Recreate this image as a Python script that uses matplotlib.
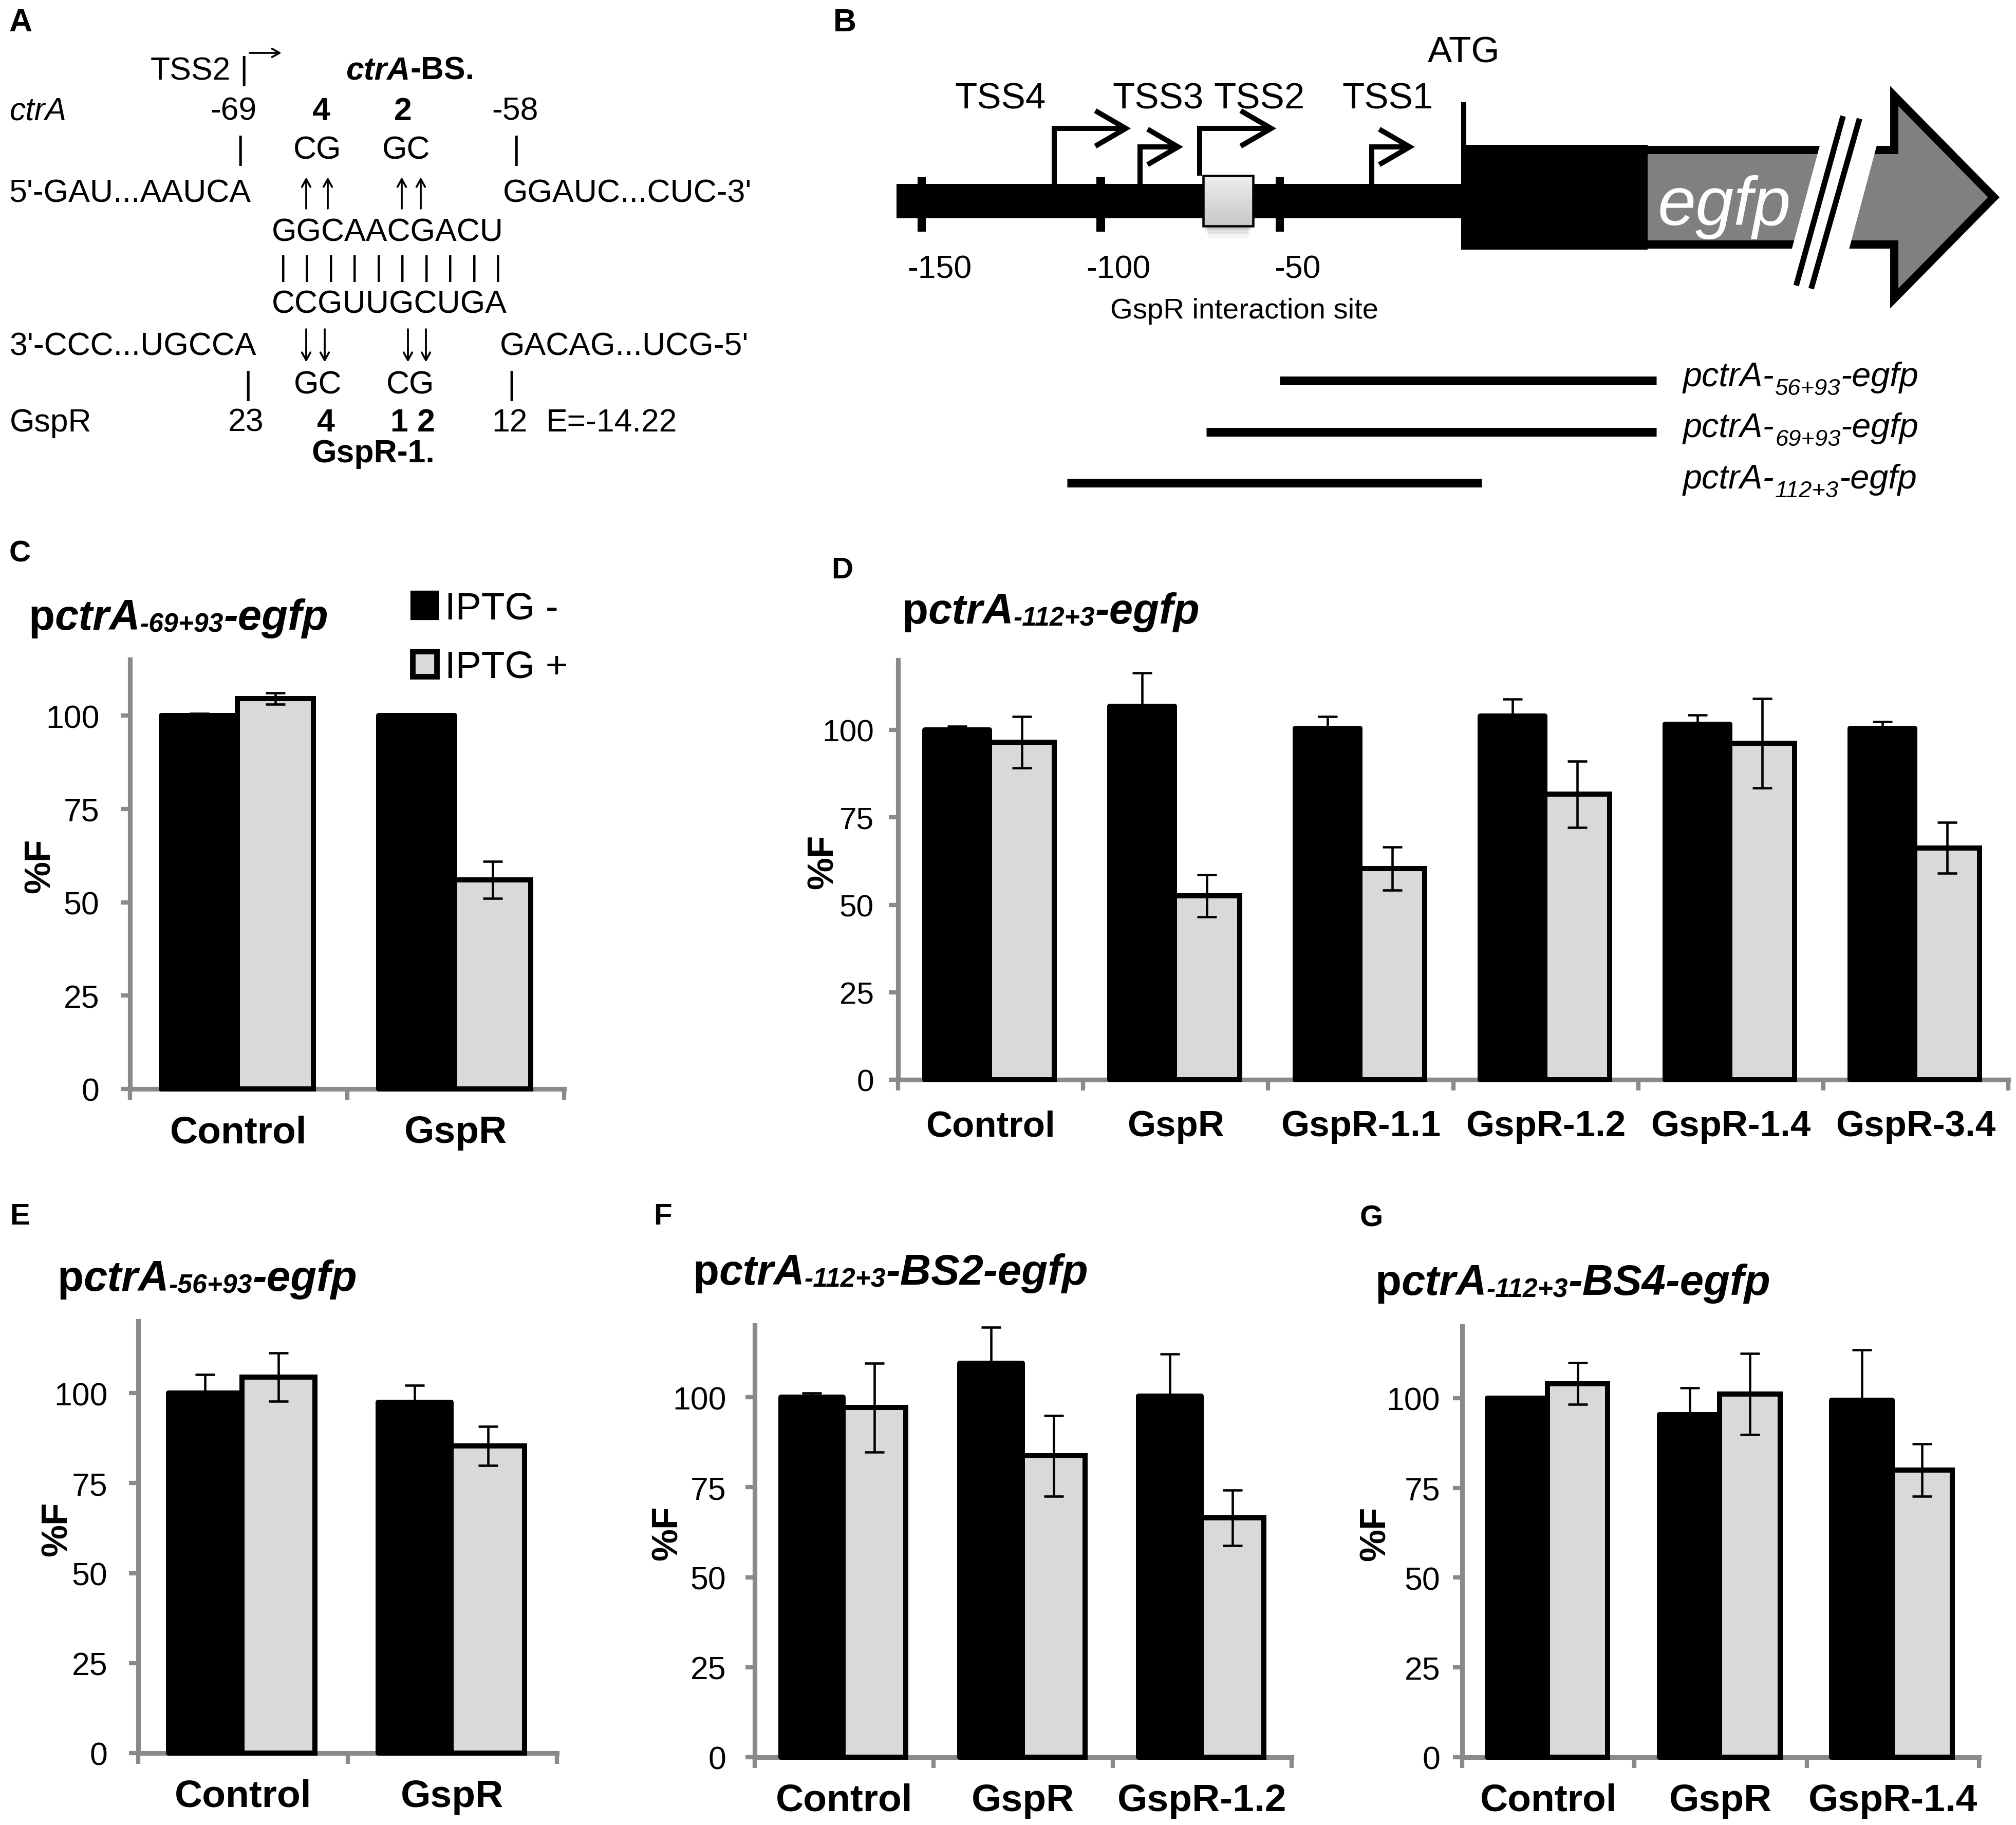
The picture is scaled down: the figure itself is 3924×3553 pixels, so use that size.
"""
Figure: ctrA / GspR interaction scheme (A, B) and %F of ctrA-egfp
reporters with and without IPTG (C-G).
"""

import matplotlib
matplotlib.use("Agg")
import matplotlib.pyplot as plt
import numpy as np
from matplotlib.patches import FancyArrowPatch, Patch, Polygon, Rectangle
from matplotlib.transforms import IdentityTransform

plt.rcParams["font.family"] = ["Liberation Sans", "DejaVu Sans"]

W, H, DPI = 3924, 3554, 300
GREY = "#d9d9d9"
AXIS_GREY = "#8a8a8a"

# ---------------- bar chart data (%F) ----------------
C_CATS = ["Control", "GspR"]
C_NEG = [100.0, 100.0]
C_NEG_ERR = [0.5, 0.3]
C_POS = [104.5, 56.0]
C_POS_ERR = [1.5, 5.0]

D_CATS = ["Control", "GspR", "GspR-1.1", "GspR-1.2", "GspR-1.4", "GspR-3.4"]
D_NEG = [100.0, 106.8, 100.4, 104.0, 101.6, 100.4]
D_NEG_ERR = [1.0, 9.5, 3.5, 4.8, 2.7, 2.0]
D_POS = [96.5, 52.6, 60.4, 81.6, 96.2, 66.3]
D_POS_ERR = [7.4, 6.0, 6.2, 9.5, 12.8, 7.3]

E_CATS = ["Control", "GspR"]
E_NEG = [100.0, 97.4]
E_NEG_ERR = [5.2, 4.8]
E_POS = [104.5, 85.3]
E_POS_ERR = [6.7, 5.4]

F_CATS = ["Control", "GspR", "GspR-1.2"]
F_NEG = [100.0, 109.5, 100.3]
F_NEG_ERR = [1.2, 10.0, 11.7]
F_POS = [97.1, 83.7, 66.5]
F_POS_ERR = [12.4, 11.2, 7.7]

G_CATS = ["Control", "GspR", "GspR-1.4"]
G_NEG = [100.0, 95.4, 99.4]
G_NEG_ERR = [0.0, 7.5, 14.0]
G_POS = [104.0, 101.1, 80.0]
G_POS_ERR = [5.8, 11.3, 7.3]

LEGEND_LABELS = ["IPTG -", "IPTG +"]
Y_TICKS = [0, 25, 50, 75, 100]

# ---------------- panel B schematic (nt, relative to ATG) ----------------
SCALE_TICKS = [-150, -100, -50]
TSS_NAMES = ["TSS4", "TSS3", "TSS2", "TSS1"]
TSS_POS = [-113, -89, -72.4, -24.3]
TSS_LONG = [True, False, True, False]
GSPR_SITE = (-71.4, -57.4)
BACKBONE_START = -157
CDS_START, CDS_END = 1.4, 52.7
EGFP_END, EGFP_TIP = 121.6, 150.9
CONSTRUCT_SUBS = ["56+93", "69+93", "112+3"]
CONSTRUCT_SPANS = [(-50.0, 55.2), (-70.5, 55.2), (-109.4, 6.4)]

fig = plt.figure(figsize=(W / DPI, H / DPI), dpi=DPI)
renderer = fig.canvas.get_renderer()


def ptext(x, y, s, size, **kw):
    """Text at figure pixels measured from the top-left corner."""
    kw.setdefault("va", "baseline")
    return fig.text(x / W, 1 - y / H, s, fontsize=size, **kw)


def parrow(x0, y0, x1, y1):
    """Thin line arrow between two points given in pixels from the top-left."""
    fig.add_artist(FancyArrowPatch((x0, H - y0), (x1, H - y1), transform=IdentityTransform(),
                                   arrowstyle="->,head_length=3.6,head_width=2.0",
                                   linewidth=0.9, color="black", shrinkA=0, shrinkB=0))


def rich(x, y, parts, size, color="black", sub_scale=0.62, sub_drop=0.06, sub_gap=0.0):
    """Run of text pieces with smaller 'subscript' pieces; x, y = baseline start."""
    cur = x
    for s, weight, style, sub in parts:
        fs = size * sub_scale if sub else size
        drop = sub_drop * size * DPI / 72 if sub else 0
        if sub:
            cur += sub_gap * size * DPI / 72
        t = fig.text(cur, H - y - drop, s, transform=IdentityTransform(),
                     fontsize=fs, fontweight=weight, fontstyle=style,
                     color=color, ha="left", va="baseline")
        cur += t.get_window_extent(renderer).width
    return cur


def title_parts(sub, suffix):
    return [("p", "bold", "normal", False), ("ctrA", "bold", "italic", False),
            (sub, "bold", "italic", True), (suffix, "bold", "italic", False)]


# ---------------- panel letters ----------------
for letter, x, y, size in [("A", 17, 61, 15), ("B", 1622, 61, 15),
                           ("C", 18, 1094, 14), ("D", 1618, 1126, 14),
                           ("E", 19, 2384, 14), ("F", 1272, 2384, 14),
                           ("G", 2647, 2388, 14)]:
    ptext(x, y, letter, size, fontweight="bold")

# ---------------- panel A: duplex ----------------
A_SIZE = 15
ptext(293, 155, "TSS2", A_SIZE)
ptext(475, 155, "|", A_SIZE, ha="center")
parrow(486, 104, 548, 104)
rich(673, 155, [("ctrA", "bold", "italic", False), ("-BS.", "bold", "normal", False)], A_SIZE)

ptext(19, 234, "ctrA", A_SIZE, fontstyle="italic")
ptext(409, 234, "-69", A_SIZE)
ptext(625, 234, "4", A_SIZE, ha="center", fontweight="bold")
ptext(784, 234, "2", A_SIZE, ha="center", fontweight="bold")
ptext(957, 234, "-58", A_SIZE)

ptext(468, 310, "|", A_SIZE, ha="center")
ptext(618, 309, "CG", A_SIZE, ha="center")
ptext(791, 309, "GC", A_SIZE, ha="center")
ptext(1005, 310, "|", A_SIZE, ha="center")

ptext(17, 393, "5'-GAU...AAUCA", A_SIZE)
for xa in (596, 638, 782, 819):
    parrow(xa, 407, xa, 346)
ptext(979, 393, "GGAUC...CUC-3'", A_SIZE)

ptext(529, 469, "GGCAACGACU", A_SIZE)
for i in range(10):
    ptext(551 + 46.5 * i, 537, "|", 13.5, ha="center")
ptext(529, 609, "CCGUUGCUGA", A_SIZE)

ptext(19, 691, "3'-CCC...UGCCA", A_SIZE)
for xa in (596, 632, 794, 829):
    parrow(xa, 642, xa, 706)
ptext(973, 691, "GACAG...UCG-5'", A_SIZE)

ptext(483, 768, "|", A_SIZE, ha="center")
ptext(619, 767, "GC", A_SIZE, ha="center")
ptext(799, 767, "CG", A_SIZE, ha="center")
ptext(996, 768, "|", A_SIZE, ha="center")

ptext(19, 840, "GspR", A_SIZE)
ptext(444, 840, "23", A_SIZE)
ptext(634, 840, "4", A_SIZE, ha="center", fontweight="bold")
ptext(803, 840, "1 2", A_SIZE, ha="center", fontweight="bold")
ptext(957, 840, "12", A_SIZE)
ptext(1063, 840, "E=-14.22", A_SIZE)
ptext(606, 900, "GspR-1.", A_SIZE, fontweight="bold")

# ---------------- panel B: promoter scheme ----------------
B_LEFT_PX = 1700
PX_PER_NT = 6.97
ZERO_PX = 2839.5
axb = fig.add_axes([B_LEFT_PX / W, 1 - 1000 / H, (W - B_LEFT_PX) / W, 1000 / H])
axb.set_xlim((B_LEFT_PX - ZERO_PX) / PX_PER_NT, (W - ZERO_PX) / PX_PER_NT)
axb.set_ylim(1000, 0)
axb.axis("off")

pt = 72 / DPI  # points per pixel

axb.add_patch(Rectangle((BACKBONE_START, 359), CDS_START + 1 - BACKBONE_START, 67,
                        facecolor="black", edgecolor="none", zorder=1))
for t in SCALE_TICKS:
    axb.add_patch(Rectangle((t - 1.2, 346), 2.4, 106, facecolor="black",
                            edgecolor="none", zorder=1))
    axb.text(t + 5, 542, str(t), fontsize=15, ha="center", va="baseline")

# GspR interaction site box with soft shadow and light gradient
x0, x1 = GSPR_SITE
for k, a in enumerate([0.10, 0.07, 0.04]):
    axb.add_patch(Rectangle((x0 + 0.5 + k * 0.5, 441), (x1 - x0) - 1 - k, 8 + 8 * k,
                            facecolor="black", edgecolor="none", alpha=a, zorder=2))
grad = np.linspace(0.93, 0.78, 64)[:, None]
axb.imshow(grad, extent=(x0, x1, 441, 343), cmap="gray", vmin=0, vmax=1,
           aspect="auto", zorder=3)
axb.add_patch(Rectangle((x0, 343), x1 - x0, 98, facecolor="none",
                        edgecolor="black", linewidth=4.5 * pt, zorder=3.5))
axb.text((x0 + x1) / 2 + 4.5, 620, "GspR interaction site", fontsize=13.5,
         ha="center", va="baseline")

# transcription start sites
tss_label_shift = [-15, 5, 16.7, 4.4]
for name, pos, long_arrow, shift in zip(TSS_NAMES, TSS_POS, TSS_LONG, tss_label_shift):
    top = 251 if long_arrow else 287
    length = 20 if long_arrow else 10.6
    base = 343 if name == "TSS2" else 359
    tip = pos + length
    axb.plot([pos, pos, tip], [base, top, top], color="black",
             linewidth=10 * pt, solid_joinstyle="miter", solid_capstyle="butt", zorder=2)
    axb.plot([tip - 7.9, tip, tip - 7.9], [top - 32, top, top + 32], color="black",
             linewidth=10 * pt, solid_joinstyle="miter", zorder=2)
    axb.text(pos + shift, 212, name, fontsize=17, ha="center", va="baseline")

# ATG, coding start and egfp arrow
axb.text(CDS_START, 121, "ATG", fontsize=17, ha="center", va="baseline")
axb.plot([CDS_START, CDS_START], [200, 487], color="black", linewidth=10 * pt,
         solid_capstyle="butt", zorder=4)
axb.add_patch(Rectangle((CDS_START, 283), CDS_END - CDS_START, 204,
                        facecolor="black", edgecolor="none", zorder=4))
arrow = Polygon([(CDS_END - 8, 293), (EGFP_END, 293), (EGFP_END, 188), (EGFP_TIP - 1.5, 385),
                 (EGFP_END, 582), (EGFP_END, 477), (CDS_END - 8, 477)], closed=True,
                facecolor="#808080", edgecolor="black", linewidth=16 * pt,
                joinstyle="miter", zorder=2)
axb.add_patch(arrow)
axb.add_patch(Polygon([(101.2, 274), (117.1, 274), (108.6, 496), (92.6, 496)],
                      closed=True, facecolor="white", edgecolor="none", zorder=5))
axb.plot([107.3, 94.2], [227, 557], color="black", linewidth=11 * pt,
         solid_capstyle="butt", zorder=6)
axb.plot([111.9, 98.4], [232, 563], color="black", linewidth=11 * pt,
         solid_capstyle="butt", zorder=6)
axb.text(74.1, 438, "egfp", fontsize=32, fontstyle="italic", color="white",
         ha="center", va="baseline", zorder=6)

# reporter constructs
label_x = axb.transData.transform((62.6, 0))[0]
for i, (sub, (s0, s1)) in enumerate(zip(CONSTRUCT_SUBS, CONSTRUCT_SPANS)):
    y = 742 + 99.5 * i
    axb.plot([s0, s1], [y, y], color="black", linewidth=17 * pt, solid_capstyle="butt")
    rich(label_x, y + 10, [("pctrA-", "normal", "italic", False),
                           (sub, "normal", "italic", True),
                           ("-egfp", "normal", "italic", False)],
         16, sub_scale=0.68, sub_drop=0.25, sub_gap=0.02)


# ---------------- bar panels ----------------
def bar_panel(rect, cats, neg, neg_err, pos, pos_err, ymax,
              ytick_size=15, ytick_pad=10, xlab_size=18, xlab_pad=12, ylabel_x=-0.17):
    left, top, right, bottom = rect
    ax = fig.add_axes([left / W, 1 - bottom / H, (right - left) / W, (bottom - top) / H])
    x = np.arange(len(cats))
    ax.bar(x - 0.18, neg, 0.35, color="black", edgecolor="black", linewidth=2.4,
           joinstyle="round", zorder=3, clip_on=False)
    ax.bar(x + 0.17, pos, 0.35, color=GREY, edgecolor="black", linewidth=2.4,
           zorder=3, clip_on=False)
    for xs, vals, errs in [(x - 0.18, neg, neg_err), (x + 0.17, pos, pos_err)]:
        ax.errorbar(xs, vals, yerr=errs, fmt="none", ecolor="black", elinewidth=1.1,
                    capsize=4.5, capthick=1.1, zorder=4, clip_on=False)
    ax.set_xlim(-0.5, len(cats) - 0.5)
    ax.set_ylim(0, ymax)
    ax.set_yticks(Y_TICKS)
    ax.set_xticks(np.arange(len(cats) + 1) - 0.5)
    ax.set_xticklabels([])
    ax.set_xticks(x, labels=cats, minor=True, fontsize=xlab_size, fontweight="bold")
    ax.tick_params(axis="x", which="major", length=5, width=2.0, color=AXIS_GREY)
    ax.tick_params(axis="x", which="minor", length=0, pad=xlab_pad)
    ax.tick_params(axis="y", length=4.3, width=2.0, color=AXIS_GREY,
                   labelsize=ytick_size, pad=ytick_pad)
    for s in ("top", "right"):
        ax.spines[s].set_visible(False)
    for s in ("left", "bottom"):
        ax.spines[s].set_color(AXIS_GREY)
        ax.spines[s].set_linewidth(2.2)
    ax.patch.set_visible(False)
    ax.text(ylabel_x, 0.52, "%F", transform=ax.transAxes, rotation=90,
            ha="center", va="center", fontsize=17, fontweight="bold")
    return ax


bar_panel((253, 1285, 1098, 2121), C_CATS, C_NEG, C_NEG_ERR, C_POS, C_POS_ERR, 115,
          ytick_pad=10, ylabel_x=-0.206)
bar_panel((1748, 1286, 3909, 2103), D_CATS, D_NEG, D_NEG_ERR, D_POS, D_POS_ERR, 120,
          ytick_size=14.5, ytick_pad=7, xlab_size=17, xlab_pad=14, ylabel_x=-0.067)
bar_panel((269, 2573, 1084, 3414), E_CATS, E_NEG, E_NEG_ERR, E_POS, E_POS_ERR, 120,
          ytick_pad=10, ylabel_x=-0.193)
bar_panel((1469, 2581, 2514, 3422), F_CATS, F_NEG, F_NEG_ERR, F_POS, F_POS_ERR, 120,
          ytick_pad=9, ylabel_x=-0.162)
bar_panel((2846, 2583, 3852, 3422), G_CATS, G_NEG, G_NEG_ERR, G_POS, G_POS_ERR, 120,
          ytick_pad=6, ylabel_x=-0.167)

rich(55, 1226, title_parts("-69+93", "-egfp"), 20)
rich(1755, 1214, title_parts("-112+3", "-egfp"), 20)
rich(111, 2513, title_parts("-56+93", "-egfp"), 20)
rich(1348, 2501, title_parts("-112+3", "-BS2-egfp"), 20)
rich(2676, 2521, title_parts("-112+3", "-BS4-egfp"), 20)

handles = [Patch(facecolor="black", edgecolor="black", linewidth=2.0),
           Patch(facecolor=GREY, edgecolor="black", linewidth=2.6)]
fig.legend(handles, LEGEND_LABELS, loc="upper left", bbox_to_anchor=(803 / W, 1 - 1152 / H),
           frameon=False, fontsize=18, handlelength=0.62, handleheight=0.62,
           handletextpad=0.22, labelspacing=0.6, borderpad=0, borderaxespad=0)

fig.savefig("out.png", dpi=DPI, facecolor="white")
